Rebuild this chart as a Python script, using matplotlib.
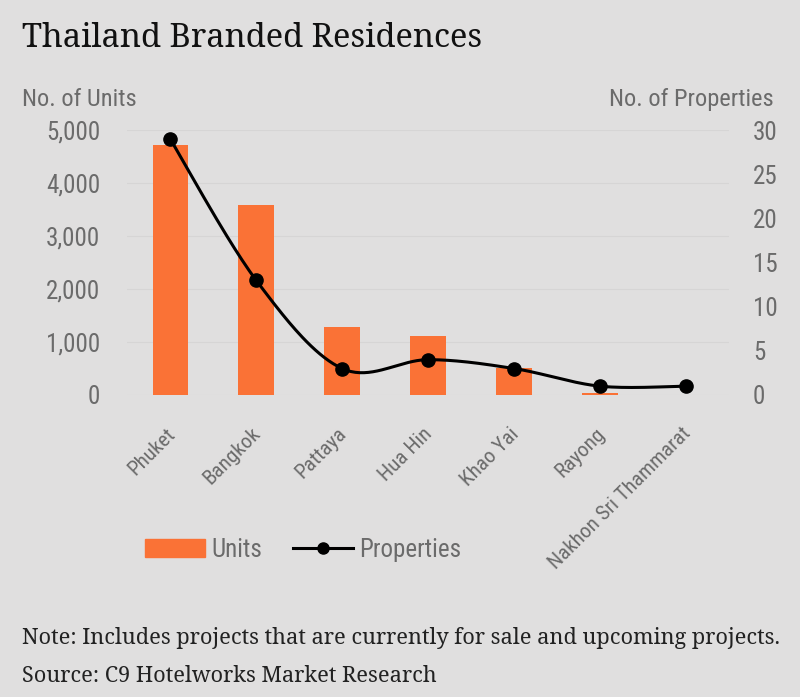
import numpy as np
import matplotlib.pyplot as plt
import matplotlib.transforms as mtransforms
from matplotlib.patches import Patch
from matplotlib.lines import Line2D

# data
cities = ['Phuket', 'Bangkok', 'Pattaya', 'Hua Hin', 'Khao Yai', 'Rayong', 'Nakhon Sri Thammarat']
units = [4720, 3585, 1290, 1115, 505, 40, 0]
properties = [29, 13, 3, 4, 3, 1, 1]

BG = '#e0dfdf'
ORANGE = '#fa7236'
GREY = '#6b6b6b'
SANS = ['Roboto Condensed', 'Roboto', 'DejaVu Sans']
SERIF = ['Noto Serif', 'DejaVu Serif', 'Liberation Serif']


def smooth(xs, ys, n=40):
    # excel-like smoothed line (bezier through the points, catmull-rom handles)
    pts = np.column_stack([xs, ys]).astype(float)
    p = np.vstack([pts[0], pts, pts[-1]])
    out = []
    t = np.linspace(0, 1, n)[:, None]
    for i in range(1, len(p) - 2):
        p0, p1, p2, p3 = p[i - 1], p[i], p[i + 1], p[i + 2]
        c1 = p1 + (p2 - p0) / 6
        c2 = p2 - (p3 - p1) / 6
        seg = (1 - t) ** 3 * p1 + 3 * (1 - t) ** 2 * t * c1 + 3 * (1 - t) * t ** 2 * c2 + t ** 3 * p2
        out.append(seg)
    out = np.vstack(out)
    return out[:, 0], out[:, 1]


fig = plt.figure(figsize=(8, 6.97), dpi=100, facecolor=BG)
ax = fig.add_axes([0.159, 0.4333, 0.752, 0.380])
ax.set_facecolor(BG)
x = np.arange(len(cities))

ax.bar(x, units, width=0.41, color=ORANGE, zorder=2)
ax.set_xlim(-0.5, len(cities) - 0.5)
ax.set_ylim(0, 5000)
ax.set_yticks(range(0, 5001, 1000))
ax.set_yticklabels([f'{v:,}' for v in range(0, 5001, 1000)], family=SANS)
ax.set_xticks(x)
ax.set_xticklabels(cities, rotation=45, ha='right', rotation_mode='anchor',
                   fontsize=15.2, color=GREY, family=SANS)
ax.grid(axis='y', color='#d6d5d5', lw=0.8, zorder=0)
for s in ax.spines.values():
    s.set_visible(False)
ax.tick_params(axis='both', length=0)
ax.tick_params(axis='y', labelsize=18, labelcolor=GREY, pad=19.5)
ax.tick_params(axis='x', pad=21)
shift = mtransforms.ScaledTranslation(-5 / 100, 0, fig.dpi_scale_trans)
for lab in ax.get_xticklabels():
    lab.set_transform(lab.get_transform() + shift)

ax2 = ax.twinx()
ax2.set_ylim(0, 30)
ax2.set_yticks(range(0, 31, 5))
ax2.set_yticklabels([str(v) for v in range(0, 31, 5)], family=SANS)
for s in ax2.spines.values():
    s.set_visible(False)
ax2.tick_params(axis='y', length=0, labelsize=18, labelcolor=GREY, pad=17.3)
sx, sy = smooth(x, properties)
ax2.plot(sx, sy, color='black', lw=2.2, zorder=3)
ax2.plot(x, properties, 'o', color='black', ms=9.5, zorder=4)

fig.text(0.028, 0.9326, 'Thailand Branded Residences', fontsize=23.5, family=SERIF,
         va='baseline', ha='left', color='#111111')
fig.text(0.0275, 0.848, 'No. of Units', fontsize=17.6, family=SANS, color=GREY, va='baseline')
fig.text(0.967, 0.848, 'No. of Properties', fontsize=17.6, family=SANS, color=GREY,
         va='baseline', ha='right')

handles = [Patch(color=ORANGE),
           Line2D([0], [0], color='black', lw=2.2, marker='o', ms=8)]
leg = fig.legend(handles, ['Units', 'Properties'], loc='center left',
                 bbox_to_anchor=(0.181, 0.211), ncol=2, frameon=False,
                 borderaxespad=0, borderpad=0,
                 prop={'family': SANS, 'size': 18}, handlelength=2.4,
                 handletextpad=0.25, columnspacing=1.25)
for t in leg.get_texts():
    t.set_color(GREY)

fig.text(0.0275, 0.0765, 'Note: Includes projects that are currently for sale and upcoming projects.',
         fontsize=15.6, family=SERIF, color='#222222', va='baseline')
fig.text(0.0275, 0.021, 'Source: C9 Hotelworks Market Research',
         fontsize=15.6, family=SERIF, color='#222222', va='baseline')

fig.savefig('out.png', dpi=100, facecolor=BG)
